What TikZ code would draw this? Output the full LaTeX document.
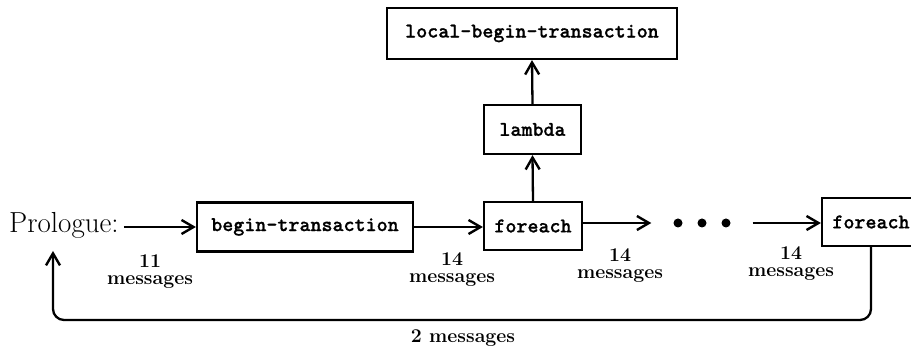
\documentclass[tikz,border=0pt]{standalone}
\usepackage{fontspec}
\newfontfamily\ttb{lmmonolt10-bold}[Extension=.otf,FakeBold=0.8]
\usetikzlibrary{arrows.meta}
\begin{document}
\begin{tikzpicture}[x=1pt,y=1pt,
  box/.style={draw,line width=2.2pt,inner sep=0pt,font=\fontsize{21}{23}\selectfont\ttb},
  conn/.style={line width=2.3pt,-{Straight Barb[length=12pt,width=14pt,line width=2.4pt]}},
  lbl/.style={align=center,inner sep=0pt,font=\fontsize{19.5}{17}\selectfont\bfseries},
  dotn/.style={circle,fill,inner sep=0pt,minimum size=9pt}]
\useasboundingbox (0,0) rectangle (911,358);
\node[anchor=base west,inner sep=0pt,font=\fontsize{29}{32}\selectfont] (pro) at (9,125) {Prologue:};
\node[box,minimum width=216pt,minimum height=49pt] (begin) at (305,131) {begin-transaction};
\node[box,minimum width=98pt,minimum height=48pt] (fe1) at (533,132) {foreach};
\node[box,minimum width=97pt,minimum height=49pt] (lam) at (532.5,228.5) {lambda};
\node[box,minimum width=290pt,minimum height=51pt] (loc) at (532,324.5) {local-begin-transaction};
\node[box,minimum width=98pt,minimum height=48pt] (fe2) at (871,136) {foreach};
\node[dotn] (d1) at (678,135) {};
\node[dotn] (d2) at (702,135) {};
\node[dotn] (d3) at (726,135) {};
\coordinate (fe1out) at (fe1.east |- d1);
\draw[conn] (pro.east |- begin) ++(5,0) -- (begin.west);
\draw[conn] (begin.east) -- (fe1.west |- begin.east);
\draw[conn] (fe1.north) -- (lam.south);
\draw[conn] (lam.north) -- (loc.south);
\draw[conn,shorten >=22pt] (fe1out) -- (d1);
\draw[conn,shorten <=22pt] (d3) -- (fe2.west |- d3);
\coordinate (bl) at (53,38);
\coordinate (ret) at (53,107);
\draw[conn,rounded corners=11pt] (fe2.south) |- (bl) -- (ret);
\node[lbl] (l1) at (150,86) {11\\messages};
\node[lbl] (l2) at (452,88.5) {14\\messages};
\node[lbl] (l3) at (620,92.5) {14\\messages};
\node[lbl] (l4) at (791,94.5) {14\\messages};
\node[lbl,anchor=base] (l5) at (463,15) {2 messages};
\end{tikzpicture}
\end{document}
